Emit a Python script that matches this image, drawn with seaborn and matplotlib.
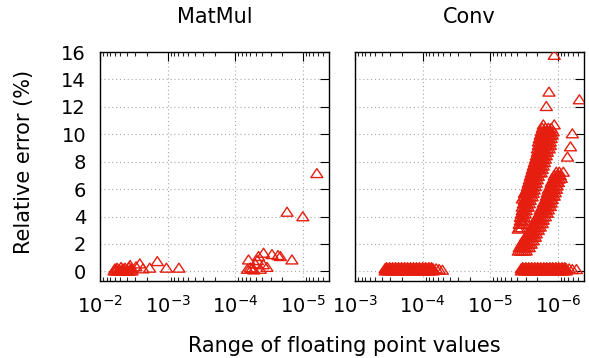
import matplotlib
matplotlib.use('Agg')
import numpy as np
import pandas as pd
import matplotlib.pyplot as plt
import seaborn as sns
from matplotlib.path import Path
from matplotlib.markers import MarkerStyle
from matplotlib.ticker import LogLocator, NullFormatter

sns.set_theme(style="white")
plt.rcParams['font.family'] = ['DejaVu Sans']
plt.rcParams['text.color'] = 'black'

RED = '#e51e10'

# ---- MatMul: (range of values, relative error %) ----
matmul_x = [6.2e-3, 5.79e-3, 5.41e-3, 5.06e-3, 4.72e-3, 4.41e-3, 4.12e-3, 3.85e-3, 3.59e-3, 3.36e-3,
            5.99e-3, 5.60e-3, 5.23e-3, 4.89e-3, 4.56e-3, 4.26e-3, 3.98e-3, 3.72e-3, 3.47e-3,
            2.93e-3, 2.58e-3, 2.31e-3, 1.84e-3, 1.42e-3, 1.04e-3, 6.8e-4, 3.59e-3,
            6.35e-5, 3.81e-5, 2.86e-5, 2.33e-5, 2.15e-5, 1.45e-5, 4.52e-5, 5.06e-5,
            3.39e-5, 5.66e-5, 4.26e-5, 6.6e-5, 3.85e-5, 6.0e-5, 4.7e-5, 5.3e-5,
            1.71e-5, 1.0e-5, 6.2e-6]
matmul_y = [0.05, 0.05, 0.05, 0.05, 0.05, 0.05, 0.05, 0.05, 0.05, 0.05,
            0.2, 0.25, 0.15, 0.3, 0.2, 0.25, 0.1, 0.3, 0.2,
            0.35, 0.56, 0.2, 0.25, 0.73, 0.25, 0.25, 0.45,
            0.85, 1.34, 1.24, 1.17, 1.1, 0.85, 1.1, 0.56,
            0.31, 0.22, 0.17, 0.17, 0.5, 0.27, 0.8, 0.12,
            4.33, 4.0, 7.15]

# ---- Conv: flat bands close to zero error (x values per error level) ----
band_a1 = [3.59e-4, 3.24e-4, 2.93e-4, 2.64e-4, 2.39e-4, 2.15e-4, 1.94e-4, 1.76e-4, 1.58e-4,
           1.43e-4, 1.29e-4, 1.17e-4, 1.05e-4, 9.5e-5, 8.6e-5, 7.7e-5, 7.0e-5]
band_a2 = [3.42e-4, 3.08e-4, 2.78e-4, 2.51e-4, 2.27e-4, 2.05e-4, 1.85e-4, 1.67e-4, 1.51e-4,
           1.36e-4, 1.23e-4, 1.11e-4, 1.0e-4, 9.0e-5, 8.1e-5, 7.4e-5]
band_b1 = [3.47e-6, 3.13e-6, 2.83e-6, 2.56e-6, 2.31e-6, 2.08e-6, 1.88e-6, 1.70e-6, 1.53e-6,
           1.38e-6, 1.25e-6, 1.13e-6, 1.02e-6, 9.2e-7, 8.3e-7, 7.5e-7]
band_b2 = [3.30e-6, 2.98e-6, 2.69e-6, 2.43e-6, 2.19e-6, 1.98e-6, 1.79e-6, 1.61e-6, 1.46e-6,
           1.31e-6, 1.19e-6, 1.07e-6, 9.7e-7, 8.7e-7, 7.9e-7]
conv_band_levels = [0.05, 0.13, 0.21, 0.29, 0.05, 0.13, 0.21, 0.29]
conv_band_x = [band_a1, band_a2, band_a1, band_a2, band_b1, band_b2, band_b1, band_b2]

# ---- Conv: upper ribbon ----
ribbon1_levels = [3.2, 3.45, 3.7, 3.95, 4.2, 4.45, 4.7, 4.95, 5.2, 5.45, 5.7, 5.95, 6.2,
                  6.45, 6.7, 6.95, 7.2, 7.45, 7.7, 7.95, 8.2, 8.45, 8.7, 8.95, 9.2, 9.45,
                  9.7, 9.95, 10.2, 10.45, 10.7]
ribbon1_x = [
    [3.72e-6, 3.47e-6],
    [3.72e-6, 3.47e-6, 3.24e-6],
    [3.59e-6, 3.36e-6, 3.13e-6],
    [3.59e-6, 3.36e-6, 3.13e-6],
    [3.47e-6, 3.24e-6, 3.03e-6],
    [3.36e-6, 3.13e-6, 2.93e-6],
    [3.36e-6, 3.13e-6, 2.93e-6, 2.74e-6],
    [3.24e-6, 3.03e-6, 2.83e-6, 2.64e-6],
    [3.13e-6, 2.93e-6, 2.74e-6, 2.56e-6],
    [3.13e-6, 2.93e-6, 2.74e-6, 2.56e-6, 2.39e-6],
    [3.03e-6, 2.83e-6, 2.64e-6, 2.47e-6, 2.31e-6],
    [2.93e-6, 2.74e-6, 2.56e-6, 2.39e-6, 2.23e-6],
    [2.83e-6, 2.64e-6, 2.47e-6, 2.31e-6, 2.15e-6],
    [2.74e-6, 2.56e-6, 2.39e-6, 2.23e-6, 2.08e-6],
    [2.64e-6, 2.47e-6, 2.31e-6, 2.15e-6, 2.01e-6],
    [2.56e-6, 2.39e-6, 2.23e-6, 2.08e-6, 1.94e-6],
    [2.47e-6, 2.31e-6, 2.15e-6, 2.01e-6, 1.88e-6, 1.76e-6],
    [2.39e-6, 2.23e-6, 2.08e-6, 1.94e-6, 1.82e-6, 1.70e-6],
    [2.31e-6, 2.15e-6, 2.01e-6, 1.88e-6, 1.76e-6, 1.64e-6],
    [2.23e-6, 2.08e-6, 1.94e-6, 1.82e-6, 1.70e-6, 1.58e-6],
    [2.15e-6, 2.01e-6, 1.88e-6, 1.76e-6, 1.64e-6, 1.53e-6],
    [2.08e-6, 1.94e-6, 1.82e-6, 1.70e-6, 1.58e-6, 1.48e-6],
    [2.01e-6, 1.88e-6, 1.76e-6, 1.64e-6, 1.53e-6, 1.43e-6],
    [2.01e-6, 1.88e-6, 1.76e-6, 1.64e-6, 1.53e-6, 1.43e-6, 1.34e-6],
    [1.94e-6, 1.82e-6, 1.70e-6, 1.58e-6, 1.48e-6, 1.38e-6, 1.29e-6],
    [1.94e-6, 1.82e-6, 1.70e-6, 1.58e-6, 1.48e-6, 1.38e-6, 1.29e-6],
    [1.88e-6, 1.76e-6, 1.64e-6, 1.53e-6, 1.43e-6, 1.34e-6, 1.25e-6],
    [1.82e-6, 1.70e-6, 1.58e-6, 1.48e-6, 1.38e-6, 1.29e-6, 1.21e-6],
    [1.76e-6, 1.64e-6, 1.53e-6, 1.43e-6, 1.34e-6, 1.25e-6, 1.17e-6],
    [1.70e-6, 1.53e-6, 1.38e-6, 1.25e-6],
    [1.64e-6, 1.13e-6],
]

# ---- Conv: lower ribbon ----
ribbon2_levels = [1.5, 1.75, 2.0, 2.25, 2.5, 2.75, 3.0, 3.25, 3.5, 3.75, 4.0, 4.25, 4.5,
                  4.75, 5.0, 5.25, 5.5, 5.75, 6.0, 6.25, 6.5, 6.75, 7.0, 7.25]
ribbon2_x = [
    [3.85e-6, 3.59e-6, 3.36e-6, 3.13e-6, 2.93e-6],
    [3.72e-6, 3.47e-6, 3.24e-6, 3.03e-6, 2.83e-6, 2.64e-6],
    [3.47e-6, 3.24e-6, 3.03e-6, 2.83e-6, 2.64e-6, 2.47e-6],
    [3.24e-6, 3.03e-6, 2.83e-6, 2.64e-6, 2.47e-6, 2.31e-6],
    [3.03e-6, 2.83e-6, 2.64e-6, 2.47e-6, 2.31e-6, 2.15e-6],
    [2.74e-6, 2.56e-6, 2.39e-6, 2.23e-6, 2.08e-6],
    [2.56e-6, 2.39e-6, 2.23e-6, 2.08e-6, 1.94e-6],
    [2.39e-6, 2.23e-6, 2.08e-6, 1.94e-6, 1.82e-6],
    [2.23e-6, 2.08e-6, 1.94e-6, 1.82e-6, 1.70e-6],
    [2.15e-6, 2.01e-6, 1.88e-6, 1.76e-6, 1.64e-6],
    [2.01e-6, 1.88e-6, 1.76e-6, 1.64e-6, 1.53e-6],
    [1.88e-6, 1.76e-6, 1.64e-6, 1.53e-6, 1.43e-6],
    [1.82e-6, 1.70e-6, 1.58e-6, 1.48e-6, 1.38e-6],
    [1.70e-6, 1.58e-6, 1.48e-6, 1.38e-6, 1.29e-6],
    [1.64e-6, 1.53e-6, 1.43e-6, 1.34e-6, 1.25e-6],
    [1.53e-6, 1.43e-6, 1.34e-6, 1.25e-6, 1.21e-6],
    [1.48e-6, 1.38e-6, 1.29e-6, 1.21e-6, 1.13e-6],
    [1.43e-6, 1.34e-6, 1.25e-6, 1.17e-6, 1.09e-6],
    [1.38e-6, 1.29e-6, 1.21e-6, 1.13e-6, 1.05e-6],
    [1.29e-6, 1.21e-6, 1.13e-6, 1.05e-6, 1.02e-6],
    [1.25e-6, 1.17e-6, 1.09e-6, 1.02e-6, 9.8e-7],
    [1.17e-6, 1.09e-6, 1.02e-6, 9.5e-7],
    [1.13e-6, 1.05e-6, 9.8e-7, 9.2e-7],
    [1.05e-6, 9.5e-7, 8.3e-7],
]

# ---- Conv: isolated points ----
conv_sparse_x = [6.3e-5, 5.7e-5, 5.1e-5, 6.8e-7, 6.1e-7, 5.3e-7,
                 3.36e-6, 3.13e-6, 3.85e-6, 8.9e-7, 7.2e-7, 6.5e-7, 6.1e-7,
                 1.13e-6, 1.35e-6, 1.48e-6, 4.8e-7]
conv_sparse_y = [0.2, 0.15, 0.1, 0.2, 0.15, 0.15,
                 5.3, 5.7, 3.1, 6.8, 8.35, 9.1, 10.05,
                 15.77, 13.09, 12.04, 12.53]


def rows_to_frame(levels, xs):
    rx, ry = [], []
    for lev, row in zip(levels, xs):
        rx.extend(row)
        ry.extend([lev] * len(row))
    return pd.DataFrame({'range': rx, 'err': ry})


df_matmul = pd.DataFrame({'range': matmul_x, 'err': matmul_y})
df_conv = pd.concat([
    rows_to_frame(conv_band_levels, conv_band_x),
    rows_to_frame(ribbon1_levels, ribbon1_x),
    rows_to_frame(ribbon2_levels, ribbon2_x),
    pd.DataFrame({'range': conv_sparse_x, 'err': conv_sparse_y}),
], ignore_index=True)

# gnuplot-like open triangle
tri = MarkerStyle(Path([(0, 0.8), (-1, -0.7), (1, -0.7), (0, 0.8)], closed=True))

fig = plt.figure(figsize=(5.89, 3.58), dpi=100)
W, H = 589.0, 358.0
ax1 = fig.add_axes([100 / W, 1 - 281 / H, 229 / W, 229 / H])
ax2 = fig.add_axes([355 / W, 1 - 281 / H, 229 / W, 229 / H], sharey=ax1)

panels = [(ax1, df_matmul, 'MatMul', (1e-2, 4.1e-6)),
          (ax2, df_conv, 'Conv', (1e-3, 4.1e-7))]

for ax, df, title, xlim in panels:
    sns.scatterplot(data=df, x='range', y='err', marker=tri, s=74,
                    facecolor='none', edgecolor=RED, linewidth=1.0,
                    legend=False, ax=ax, zorder=3)
    ax.set_xscale('log')
    ax.set_xlim(*xlim)
    ax.xaxis.set_major_locator(LogLocator(base=10, numticks=12))
    ax.xaxis.set_minor_locator(LogLocator(base=10, subs=np.arange(2, 10), numticks=12))
    ax.xaxis.set_minor_formatter(NullFormatter())
    ax.set_ylim(-0.7, 16)
    ax.set_yticks(np.arange(0, 17, 2))
    ax.set_xlabel('')
    ax.set_ylabel('')
    ax.set_title(title, fontsize=15, pad=21)
    ax.set_axisbelow(True)
    ax.grid(True, which='major', color='#a8a8a8', linestyle=(0, (1, 2.5)), linewidth=0.8)
    ax.tick_params(which='major', direction='in', length=6.5, width=0.8,
                   top=True, right=True, labelsize=14, pad=10, colors='black')
    ax.tick_params(which='minor', direction='in', length=3.2, width=0.8,
                   top=True, bottom=True)
    for sp in ax.spines.values():
        sp.set_color('black')
        sp.set_linewidth(1.0)

ax2.tick_params(labelleft=False)

fig.text(344 / W, 1 - 352 / H, 'Range of floating point values',
         ha='center', va='baseline', fontsize=15)
fig.text(24 / W, 1 - 162 / H, 'Relative error (%)', rotation=90,
         ha='center', va='center', fontsize=15)

fig.savefig('out.png', dpi=100)
plt.close(fig)
